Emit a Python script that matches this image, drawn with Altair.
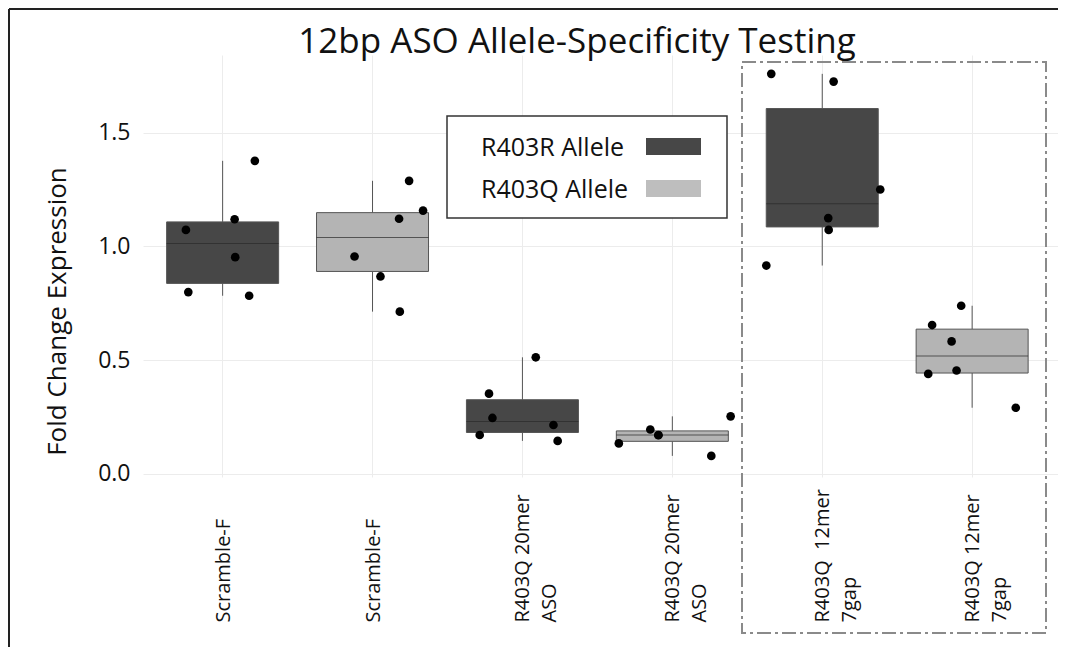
import altair as alt
import pandas as pd

# ---------------- data ----------------
groups = [
    "Scramble-F#R",
    "Scramble-F#Q",
    "R403Q 20mer|ASO#R",
    "R403Q 20mer|ASO#Q",
    "R403Q\u00a0 12mer|7gap#R",
    "R403Q 12mer|7gap#Q",
]
alleles = ["R403R Allele", "R403Q Allele", "R403R Allele", "R403Q Allele", "R403R Allele", "R403Q Allele"]

values = [
    [1.377, 1.120, 1.073, 0.953, 0.799, 0.783],
    [1.289, 1.158, 1.122, 0.956, 0.868, 0.713],
    [0.512, 0.352, 0.245, 0.214, 0.170, 0.144],
    [0.252, 0.194, 0.169, 0.170, 0.133, 0.078],
    [1.760, 1.726, 1.251, 1.125, 1.073, 0.916],
    [0.739, 0.654, 0.582, 0.454, 0.439, 0.290],
]
# horizontal jitter of each dot, as a fraction of the category width
jitter = [
    [0.215, 0.080, -0.245, 0.084, -0.229, 0.177],
    [0.244, 0.337, 0.177, -0.120, 0.053, 0.182],
    [0.089, -0.223, -0.200, 0.207, -0.285, 0.235],
    [0.389, -0.147, -0.093, -0.093, -0.357, 0.260],
    [-0.340, 0.076, 0.387, 0.040, 0.043, -0.373],
    [-0.073, -0.267, -0.137, -0.104, -0.293, 0.291],
]
allele_names = ["R403R Allele", "R403Q Allele"]
allele_colors = ["#474747", "#b4b4b4"]
legend_swatch_colors = ["#474747", "#bebebe"]
y_ticks = [0.0, 0.5, 1.0, 1.5]
title_text = "12bp ASO Allele-Specificity Testing"

rows = []
for g, a, vs, js in zip(groups, alleles, values, jitter):
    for v, j in zip(vs, js):
        rows.append({"group": g, "allele": a, "value": v, "jitter": j})
df = pd.DataFrame(rows)

FONT = "Open Sans"
W, H = 915, 422

x_scale = alt.Scale(domain=groups, paddingInner=0, paddingOuter=0.052, align=0.30)
y_scale = alt.Scale(domain=[-0.015, 1.843], nice=False, zero=False)

x_axis = alt.Axis(
    title=None,
    labelExpr="split(split(datum.value, '#')[0], '|')",
    labelAngle=270,
    labelAlign="left",
    labelBaseline="alphabetic",
    labelPadding=145,
    labelOffset=7,
    labelLineHeight=27,
    labelFont=FONT,
    labelFontSize=20,
    labelColor="#111111",
    labelLimit=400,
    labelOverlap=False,
    domain=False,
    ticks=False,
    tickSize=0,
    grid=True,
    gridColor="#ececec",
    gridWidth=1,
)
y_axis = alt.Axis(
    title="Fold Change Expression",
    values=y_ticks,
    format=".1f",
    labelFont=FONT,
    labelFontSize=23,
    labelColor="#111111",
    labelPadding=13,
    domain=False,
    ticks=False,
    tickSize=0,
    grid=True,
    gridColor="#ececec",
    gridWidth=1,
    titleFont=FONT,
    titleFontSize=26,
    titleFontWeight="normal",
    titleColor="#111111",
    titleAngle=270,
    titleAlign="center",
    titleBaseline="alphabetic",
    titleX=-78,
    titleY=256,
)

color = alt.Color(
    "allele:N",
    scale=alt.Scale(domain=allele_names, range=allele_colors),
    legend=None,
)

box = alt.Chart(df).mark_boxplot(
    extent="min-max",
    size=112,
    ticks=False,
    box={"stroke": "#555555", "strokeWidth": 1},
    median={"color": "#2a2a2a", "strokeWidth": 2},
    rule={"color": "#555555", "strokeWidth": 1},
).encode(
    x=alt.X("group:N", scale=x_scale, axis=x_axis, sort=groups),
    y=alt.Y("value:Q", scale=y_scale, axis=y_axis),
    color=color,
)

points = alt.Chart(df).mark_circle(size=75, color="#000000", opacity=1).encode(
    x=alt.X("group:N", scale=x_scale, sort=groups),
    xOffset=alt.XOffset("jitter:Q", scale=alt.Scale(domain=[-0.5, 0.5])),
    y=alt.Y("value:Q", scale=y_scale),
)

one = alt.Data(values=[{}])

dashed_box = alt.Chart(one).mark_rect(
    fillOpacity=0, stroke="#8a8a8a", strokeWidth=2, strokeDash=[14, 4, 3, 4]
).encode(x=alt.value(599), x2=alt.value(903), y=alt.value(7), y2=alt.value(578))

legend_box = alt.Chart(one).mark_rect(
    fill="white", stroke="#333333", strokeWidth=1.5
).encode(x=alt.value(304), x2=alt.value(584), y=alt.value(61), y2=alt.value(163))

sw1 = alt.Chart(one).mark_rect(color=legend_swatch_colors[0]).encode(
    x=alt.value(503), x2=alt.value(558), y=alt.value(83), y2=alt.value(100)
)
sw2 = alt.Chart(one).mark_rect(color=legend_swatch_colors[1]).encode(
    x=alt.value(503), x2=alt.value(558), y=alt.value(125), y2=alt.value(142)
)
lt1 = alt.Chart(one).mark_text(
    text=allele_names[0], font=FONT, fontSize=25, align="left", baseline="alphabetic", color="#111111"
).encode(x=alt.value(338), y=alt.value(101))
lt2 = alt.Chart(one).mark_text(
    text=allele_names[1], font=FONT, fontSize=25, align="left", baseline="alphabetic", color="#111111"
).encode(x=alt.value(338), y=alt.value(143))

title_mark = alt.Chart(one).mark_text(
    text=title_text, font=FONT, fontSize=35, align="center", baseline="alphabetic", color="#111111"
).encode(x=alt.value(434), y=alt.value(-2))

frame_top = alt.Chart(one).mark_rule(color="#222222", strokeWidth=2).encode(
    x=alt.value(-134), x2=alt.value(W), y=alt.value(-46)
)
frame_left = alt.Chart(one).mark_rule(color="#222222", strokeWidth=2).encode(
    x=alt.value(-134), y=alt.value(-46), y2=alt.value(592)
)

chart = alt.layer(
    box, points, dashed_box, legend_box, sw1, sw2, lt1, lt2, title_mark, frame_top, frame_left
).properties(
    width=W,
    height=H,
    padding={"left": 135, "top": 47, "right": 0, "bottom": 170},
    autosize=alt.AutoSizeParams(type="none"),
).configure_view(stroke=None)

chart.save("out.html", embed_options={"renderer": "svg", "actions": False})
